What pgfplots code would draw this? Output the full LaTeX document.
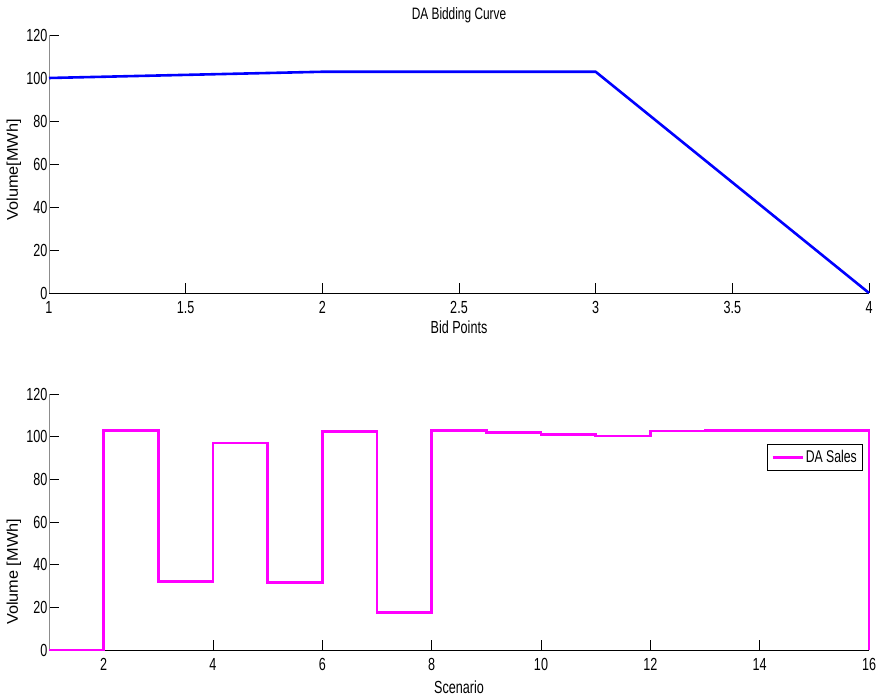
\documentclass[border=0pt]{standalone}
\usepackage{fontspec}
\setmainfont{Liberation Sans}[FakeStretch=0.72]
\newfontfamily\ylfont{Liberation Sans}[FakeStretch=1.05]
\usepackage{pgfplots}
\pgfplotsset{compat=1.18}

\definecolor{dablue}{RGB}{0,0,255}
\definecolor{damag}{RGB}{255,0,255}

\pgfplotsset{
  matstyle/.style={
    scale only axis,
    width=820bp,
    axis x line=bottom,
    axis y line=left,
    x axis line style={-, black, line width=0.8bp},
    y axis line style={-, black!45, line width=0.8bp},
    tick align=inside,
    major tick length=10bp,
    tick style={black, line width=0.6bp},
    ymin=0, ymax=120,
    ytick={0,20,...,120},
    clip=false,
    /pgf/number format/assume math mode=true,
    tick label style={font=\fontsize{17.5bp}{20bp}\selectfont},
    xticklabel style={yshift=-5bp},
    yticklabel style={xshift=2bp},
    label style={font=\fontsize{17.5bp}{20bp}\selectfont},
    every axis title/.style={
      at={(0.5,1)}, anchor=base, yshift=15bp,
      font=\fontsize{16.5bp}{19bp}\selectfont},
  }
}

\begin{document}
\begin{tikzpicture}
\path[use as bounding box] (0,0) rectangle (878bp,699bp);

% upper panel: bidding curve
\begin{axis}[
  matstyle,
  at={(49bp,406bp)}, anchor=south west,
  height=258bp,
  xmin=1, xmax=4,
  xtick={1,1.5,2,2.5,3,3.5,4},
  xticklabels={1,1.5,2,2.5,3,3.5,4},
  title={DA Bidding Curve},
  xlabel={Bid Points},
  xlabel style={at={(axis description cs:0.5,0)}, anchor=center, yshift=-34bp},
  ylabel={\ylfont\fontsize{15.5bp}{18bp}\selectfont Volume[MWh]},
  ylabel style={at={(axis description cs:-0.0427,0.477)}, anchor=center},
]
\addplot[dablue, line width=2.6bp, line join=round] coordinates {
  (1,100) (2,102.9) (3,102.9) (4,0)
};
\end{axis}

% lower panel: day-ahead sales per scenario
\begin{axis}[
  matstyle,
  at={(49bp,49bp)}, anchor=south west,
  height=256bp,
  xmin=1, xmax=16,
  xtick={2,4,...,16},
  xlabel={Scenario},
  xlabel style={at={(axis description cs:0.5,0)}, anchor=center, yshift=-37bp},
  ylabel={\ylfont\fontsize{15.5bp}{18bp}\selectfont Volume [MWh]},
  ylabel style={at={(axis description cs:-0.0427,0.305)}, anchor=center},
  legend style={
    at={(axis description cs:0.993,0.805)}, anchor=north east,
    draw=black, line width=0.8bp,
    font=\fontsize{17bp}{20bp}\selectfont,
    inner xsep=4bp, inner ysep=4bp,
  },
  legend image code/.code={\draw[#1] (0bp,0bp) -- (30bp,0bp);},
]
\addplot[damag, line width=2.6bp, const plot] coordinates {
  (1,0) (2,103) (3,32) (4,97) (5,31.5) (6,102.5) (7,17.5) (8,103)
  (9,102) (10,101.1) (11,100.3) (12,102.7) (13,103) (14,103) (15,103) (16,0)
};
\addlegendentry{DA Sales}
\end{axis}
\end{tikzpicture}
\end{document}
